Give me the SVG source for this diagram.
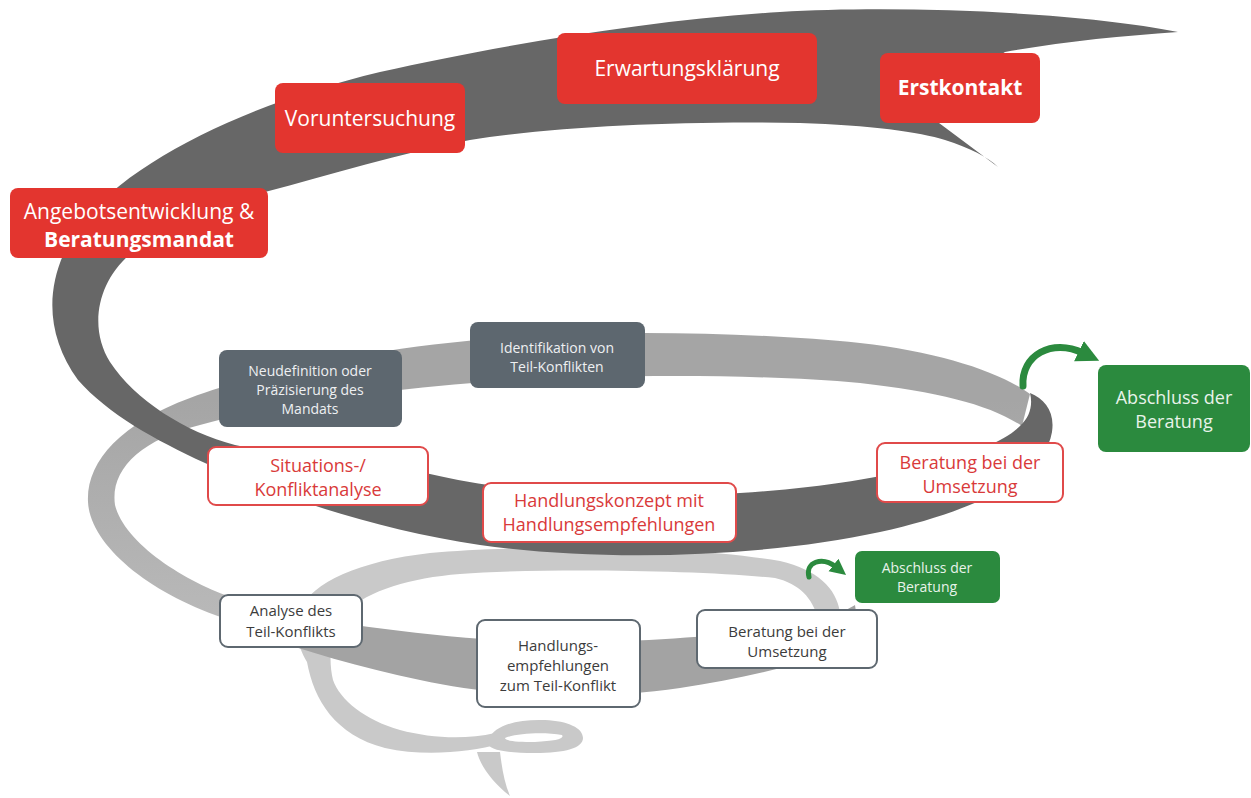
<svg xmlns="http://www.w3.org/2000/svg" width="1251" height="798" viewBox="0 0 1251 798">
<defs>
<style>
text{font-family:"Open Sans","Liberation Sans",sans-serif;text-anchor:middle}
.red rect{fill:#e3352f}
.red text{fill:#ffffff;font-size:21px}
.bold{font-weight:700}
.slate rect{fill:#5d676f}
.slate text{fill:#eef0f2;font-size:14px}
.outl rect{fill:#ffffff;stroke:#e04a4a;stroke-width:2}
.outl text{fill:#d93a3a;font-size:18px}
.low rect{fill:#ffffff;stroke:#5e6870;stroke-width:2}
.low text{fill:#3c3c3c;font-size:15px}
.grn rect{fill:#2b8a3e}
.grn text{fill:#e8f3ea}
.arr{fill:none;stroke:#2b8a3e;stroke-linecap:round}
</style>
<marker id="head" viewBox="0 0 10 10" refX="2" refY="5" markerWidth="3.2" markerHeight="4" orient="auto" markerUnits="strokeWidth">
<path d="M0,0 L10,5 L0,10 z" fill="#2b8a3e"/>
</marker>
<linearGradient id="gB" gradientUnits="userSpaceOnUse" x1="0" y1="400" x2="0" y2="620">
<stop offset="0" stop-color="#a5a5a5"/>
<stop offset="1" stop-color="#b9b9b9"/>
</linearGradient>
</defs>

<g id="spiral">
<path fill="#c9c9c9" d="M 840 612 C 836 588, 818 570, 780 561 C 680 544, 520 545, 430 553 C 360 561, 312 582, 300 610 C 292 632, 300 650, 307 662 C 314 700, 335 735, 385 748 C 425 757, 470 752, 500 744 L 495 733 C 465 740, 430 738, 400 730 C 365 720, 340 700, 333 680 C 328 660, 330 630, 345 612 C 370 590, 410 578, 460 574 C 540 568, 700 570, 775 578 C 800 584, 812 598, 818 618 Z"/>
<path fill="#c9c9c9" fill-rule="evenodd" d="M 488 740 C 495 724, 520 719, 545 720 C 568 721, 583 728, 583 738 C 583 748, 565 753, 535 753 C 505 753, 484 750, 488 740 Z M 505 738 C 517 733, 545 732, 562 735 C 565 739, 555 741, 535 742 C 517 742, 505 741, 505 738 Z"/>
<path fill="#c9c9c9" d="M 477 752 C 480 765, 492 782, 510 796 C 504 782, 502 768, 500 752 Z"/>
<path fill="#a3a3a3" d="M 235 602 C 300 618, 400 634, 500 640 C 600 646, 720 638, 790 625 C 820 619, 845 612, 855 605 L 860 640 C 820 660, 750 678, 680 688 C 600 700, 500 698, 420 680 C 350 665, 280 645, 225 620 Z"/>
<path fill="url(#gB)" d="M 1030 394 C 1000 372, 940 352, 860 343 C 760 333, 620 329, 500 338 C 380 347, 260 372, 190 398 C 120 424, 86 462, 88 502 C 90 545, 150 595, 230 620 L 240 600 C 190 585, 125 545, 115 505 C 110 470, 140 440, 200 425 C 280 402, 400 388, 500 381 C 620 374, 760 374, 860 383 C 940 392, 990 405, 1022 426 Z"/>
<path fill="#676767" d="M 1178 32 C 1080 12, 900 5, 780 12 C 650 20, 500 45, 380 72 C 250 103, 130 160, 80 225 C 45 275, 42 330, 78 380 C 108 414, 155 440, 205 463 C 280 498, 380 530, 480 545 C 600 562, 760 558, 880 532 C 980 510, 1045 475, 1052 432 C 1055 412, 1045 399, 1030 393 C 1033 405, 1030 417, 1020 426 C 990 456, 880 484, 740 493 C 620 500, 510 493, 430 474 C 350 458, 280 455, 235 445 C 185 432, 135 400, 110 362 C 90 330, 95 285, 130 254 C 170 222, 215 203, 265 192 C 330 175, 400 153, 470 140 C 560 126, 680 121, 800 123 C 870 125, 920 132, 945 140 C 970 148, 988 157, 998 167 L 935 120 L 960 80 L 1005 52 C 1060 42, 1120 36, 1178 32 Z"/>
</g>

<g id="connectors">
<path class="arr" stroke-width="7" marker-end="url(#head)" d="M 1023 386 C 1021 355, 1052 338, 1083 353"/>
<path class="arr" stroke-width="5" marker-end="url(#head)" d="M 809 577 C 805 562, 822 556, 836 567"/>
</g>

<g id="n-erstkontakt" class="red"><rect x="880" y="53" width="160" height="70" rx="8"/><text x="960" y="95" class="bold" font-size="20">Erstkontakt</text></g>
<g id="n-erwartung" class="red"><rect x="557" y="33" width="260" height="71" rx="8"/><text x="687" y="76">Erwartungsklärung</text></g>
<g id="n-vorunters" class="red"><rect x="275" y="83" width="190" height="70" rx="8"/><text x="370" y="126">Voruntersuchung</text></g>
<g id="n-angebot" class="red"><rect x="10" y="188" width="258" height="70" rx="8"/><text x="139" y="219" font-size="20">Angebotsentwicklung &amp;</text><text x="139" y="247" class="bold" font-size="20">Beratungsmandat</text></g>

<g id="n-neudef" class="slate"><rect x="219" y="350" width="183" height="77" rx="8"/><text x="310" y="376">Neudefinition oder</text><text x="310" y="395">Präzisierung des</text><text x="310" y="414">Mandats</text></g>
<g id="n-ident" class="slate"><rect x="470" y="322" width="175" height="66" rx="8"/><text x="557" y="353">Identifikation von</text><text x="557" y="372">Teil-Konflikten</text></g>

<g id="n-situation" class="outl"><rect x="208" y="447" width="220" height="58" rx="8"/><text x="318" y="472">Situations-/</text><text x="318" y="496">Konfliktanalyse</text></g>
<g id="n-handlkonz" class="outl"><rect x="483" y="483" width="253" height="59" rx="8"/><text x="609" y="507">Handlungskonzept mit</text><text x="609" y="531">Handlungsempfehlungen</text></g>
<g id="n-beratung1" class="outl"><rect x="877" y="443" width="186" height="59" rx="8"/><text x="970" y="469">Beratung bei der</text><text x="970" y="493">Umsetzung</text></g>
<g id="n-abschluss1" class="grn"><rect x="1098" y="365" width="152" height="87" rx="8"/><text x="1174" y="404" font-size="18">Abschluss der</text><text x="1174" y="428" font-size="18">Beratung</text></g>

<g id="n-analyse" class="low"><rect x="220" y="595" width="142" height="52" rx="8"/><text x="291" y="616">Analyse des</text><text x="291" y="637">Teil-Konflikts</text></g>
<g id="n-handlempf" class="low"><rect x="477" y="620" width="163" height="87" rx="8"/><text x="558" y="651">Handlungs-</text><text x="558" y="671">empfehlungen</text><text x="558" y="691">zum Teil-Konflikt</text></g>
<g id="n-beratung2" class="low"><rect x="697" y="610" width="180" height="58" rx="8"/><text x="787" y="637">Beratung bei der</text><text x="787" y="657">Umsetzung</text></g>
<g id="n-abschluss2" class="grn"><rect x="855" y="551" width="145" height="52" rx="7"/><text x="927" y="573" font-size="14">Abschluss der</text><text x="927" y="592" font-size="14">Beratung</text></g>
</svg>
